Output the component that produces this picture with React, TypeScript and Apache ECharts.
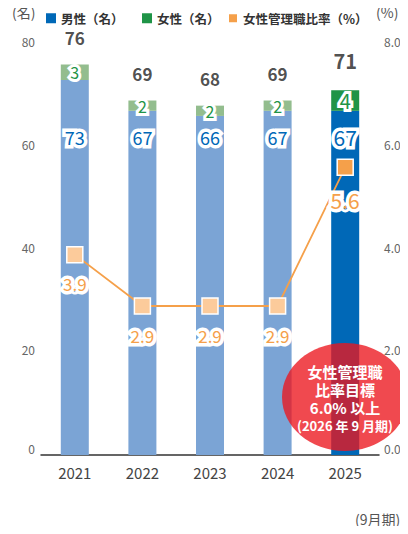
import React, { useEffect, useRef } from "react";
import * as echarts from "echarts";

const years = ["2021", "2022", "2023", "2024", "2025"];
const maleCounts = [73, 67, 66, 67, 67];
const femaleCounts = [3, 2, 2, 2, 4];
const totalCounts = [76, 69, 68, 69, 71];
const femaleManagerRatio = [3.9, 2.9, 2.9, 2.9, 5.6];
const leftTicks = { min: 0, max: 80, interval: 20 };
const rightTicks = { min: 0, max: 8, interval: 2 };
const legendNames = ["男性（名）", "女性（名）", "女性管理職比率（%）"];
const targetLines = ["女性管理職", "比率目標", "6.0% 以上", "(2026 年 9 月期)"];

const FONT = "'Noto Sans CJK JP', 'Noto Sans', sans-serif";
const BLUE = "#0068b7";
const BLUE_LIGHT = "#7ba4d5";
const GREEN = "#1f9447";
const GREEN_LIGHT = "#93bd8e";
const ORANGE = "#f5a04a";
const ORANGE_LIGHT = "#fccb9b";

export default function App() {
  const ref = useRef<HTMLDivElement>(null);
  useEffect(() => {
    if (!ref.current) return;
    const chart = echarts.init(ref.current, undefined, { renderer: "svg" });
    const last = years.length - 1;
    const tickFmt = (digits: number) => (v: number) =>
      v === 0 ? "{z|" + v.toFixed(digits) + "}" : "{n|" + v.toFixed(digits) + "}";
    const tickRich = {
      z: { padding: [0, 0, 14, 0], fontSize: 12, color: "#666", fontFamily: FONT },
      n: { padding: [0, 0, 5, 0], fontSize: 12, color: "#666", fontFamily: FONT },
    };
    const legendLeft = [41, 137, 222];
    chart.setOption({
      animation: false,
      textStyle: { fontFamily: FONT },
      legend: legendNames.map((n, i) => ({
        left: legendLeft[i],
        top: 7,
        itemWidth: 10,
        itemHeight: 10,
        itemGap: 0,
        icon: "rect",
        textStyle: { fontSize: 12.5, color: "#333", fontWeight: "bold", fontFamily: FONT },
        data: [n],
      })),
      grid: { left: 41, right: 29, top: 44, bottom: 79 },
      xAxis: {
        type: "category",
        data: years,
        axisLine: { lineStyle: { color: "#333", width: 1.5 } },
        axisTick: { show: false },
        axisLabel: { fontSize: 15, color: "#444", margin: 10, fontFamily: FONT },
      },
      yAxis: [
        {
          type: "value",
          ...leftTicks,
          splitLine: { show: false },
          axisLine: { show: false },
          axisTick: { show: false },
          axisLabel: { fontSize: 12, color: "#666", margin: 6, formatter: tickFmt(0), rich: tickRich, fontFamily: FONT },
        },
        {
          type: "value",
          ...rightTicks,
          splitLine: { show: false },
          axisLine: { show: false },
          axisTick: { show: false },
          axisLabel: { fontSize: 12, color: "#666", margin: 5, formatter: tickFmt(1), rich: tickRich, fontFamily: FONT },
        },
      ],
      series: [
        {
          name: legendNames[0],
          type: "bar",
          stack: "total",
          barWidth: 28,
          itemStyle: { color: BLUE },
          data: maleCounts.map((v, i) => ({
            value: v,
            itemStyle: { color: i === last ? BLUE : BLUE_LIGHT },
            label: i === last ? { fontSize: 21 } : undefined,
          })),
          label: {
            show: true,
            position: "insideBottom",
            distance: 0,
            offset: [0, -308],
            lineHeight: 20,
            fontSize: 18,
            color: BLUE,
            textBorderColor: "#fff",
            textBorderWidth: 7,
            fontFamily: FONT,
          },
        },
        {
          name: legendNames[1],
          type: "bar",
          stack: "total",
          barWidth: 28,
          itemStyle: { color: GREEN },
          data: femaleCounts.map((v, i) => ({
            value: v,
            itemStyle: { color: i === last ? GREEN : GREEN_LIGHT },
            label: i === last ? { fontSize: 20 } : undefined,
          })),
          label: {
            show: true,
            position: "inside",
            fontSize: 16,
            color: GREEN,
            textBorderColor: "#fff",
            textBorderWidth: 6,
            fontFamily: FONT,
          },
        },
        {
          name: "total",
          type: "scatter",
          symbolSize: 0,
          data: totalCounts.map((v, i) => ({
            value: v,
            label: i === last ? { fontSize: 20, distance: 20 } : undefined,
          })),
          label: {
            show: true,
            position: "top",
            distance: 19,
            fontSize: 17,
            fontWeight: "bold",
            color: "#222",
            fontFamily: FONT,
          },
          z: 5,
        },
        {
          name: legendNames[2],
          type: "line",
          yAxisIndex: 1,
          symbol: "rect",
          symbolSize: 16,
          lineStyle: { color: ORANGE, width: 1.8 },
          itemStyle: { color: ORANGE, borderColor: "#fff", borderWidth: 1.5 },
          data: femaleManagerRatio.map((v, i) => ({
            value: v,
            itemStyle: { color: i === last ? ORANGE : ORANGE_LIGHT, borderColor: "#fff", borderWidth: 1.5 },
            label: i === last ? { fontSize: 21, distance: 13 } : undefined,
          })),
          label: {
            show: true,
            position: "bottom",
            distance: 12,
            fontSize: 17,
            color: ORANGE,
            textBorderColor: "#fff",
            textBorderWidth: 7,
            formatter: (p: any) => Number(p.value).toFixed(1),
            fontFamily: FONT,
          },
          z: 6,
        },
      ],
      graphic: [
        {
          type: "text",
          left: 12,
          top: 5,
          style: { text: "(名)", fill: "#555", fontSize: 14, fontFamily: FONT },
        },
        {
          type: "text",
          left: 376,
          top: 5,
          style: { text: "(%)", fill: "#555", fontSize: 14, fontFamily: FONT },
        },
        {
          type: "text",
          left: 355,
          top: 512,
          style: { text: "(9月期)", fill: "#555", fontSize: 14, fontFamily: FONT },
        },
        {
          type: "group",
          z: 100,
          children: [
            {
              type: "ellipse",
              shape: { cx: 345, cy: 397, rx: 63, ry: 54 },
              style: { fill: "rgba(236,22,30,0.78)" },
              z: 100,
            },
            {
              type: "text",
              z: 101,
              x: 345,
              y: 398,
              style: {
                text: targetLines
                  .map((t, i) => (i === targetLines.length - 1 ? "{s|" + t + "}" : "{b|" + t + "}"))
                  .join("\n"),
                align: "center",
                verticalAlign: "middle",
                rich: {
                  b: { fill: "#fff", fontSize: 15, fontWeight: "bold", fontFamily: FONT, lineHeight: 18, align: "center" },
                  s: { fill: "#fff", fontSize: 13, fontWeight: "bold", fontFamily: FONT, lineHeight: 17, align: "center" },
                },
              },
            },
          ],
        },
      ],
    });
    return () => chart.dispose();
  }, []);
  return <div ref={ref} style={{ width: 408, height: 534, margin: -8 }} />;
}
